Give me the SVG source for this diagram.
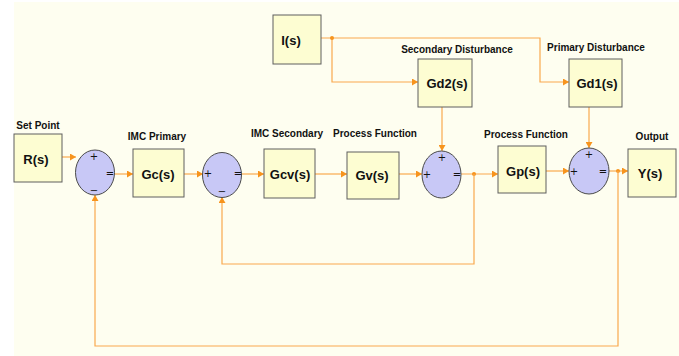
<svg xmlns="http://www.w3.org/2000/svg" width="679" height="356" viewBox="0 0 679 356">
<style>
.box{fill:#fdfdd2;stroke:#5e5e5e;stroke-width:1}
.sum{fill:#c8c8f6;stroke:#4a4a4a;stroke-width:1}
.lbl{font-family:"Liberation Sans",Arial,sans-serif;font-weight:bold;font-size:10px;fill:#111;text-anchor:middle}
.bl{font-family:"Liberation Sans",Arial,sans-serif;font-weight:bold;font-size:13px;fill:#111;text-anchor:middle}
.sg{font-family:"DejaVu Sans",sans-serif;font-size:10px;fill:#111;text-anchor:middle;dominant-baseline:central}
.ln{fill:none;stroke:#f9a84e;stroke-width:1.2}
.dot{fill:#f7941d}
</style>
<defs>
<marker id="ah" markerUnits="userSpaceOnUse" markerWidth="6" markerHeight="7" refX="6" refY="3.5" orient="auto">
<path d="M0,0 L6,3.5 L0,7 z" fill="#f7941d"/>
</marker>
</defs>
<rect x="0" y="0" width="679" height="356" fill="#ffffff"/>
<rect x="14" y="2" width="665" height="354" fill="#fefef0"/>

<g id="connectors">
<path class="ln" d="M321,38 H540 V82 H569" marker-end="url(#ah)"/>
<path class="ln" d="M332,38 V82 H418" marker-end="url(#ah)"/>
<circle class="dot" cx="332" cy="38" r="2"/>
<path class="ln" d="M442,107 V151" marker-end="url(#ah)"/>
<path class="ln" d="M589,107 V148" marker-end="url(#ah)"/>
<path class="ln" d="M62,157 H76" marker-end="url(#ah)"/>
<path class="ln" d="M114,174 H133" marker-end="url(#ah)"/>
<path class="ln" d="M184,174 H203" marker-end="url(#ah)"/>
<path class="ln" d="M241,174 H264" marker-end="url(#ah)"/>
<path class="ln" d="M315,174 H347" marker-end="url(#ah)"/>
<path class="ln" d="M399,174 H422" marker-end="url(#ah)"/>
<path class="ln" d="M461,174 H498" marker-end="url(#ah)"/>
<circle class="dot" cx="474" cy="174" r="2"/>
<path class="ln" d="M546,171 H569" marker-end="url(#ah)"/>
<path class="ln" d="M609,171 H628" marker-end="url(#ah)"/>
<circle class="dot" cx="618" cy="171" r="2"/>
<path class="ln" d="M474,174 V264 H222 V197" marker-end="url(#ah)"/>
<path class="ln" d="M618,171 V346 H95 V195" marker-end="url(#ah)"/>
</g>

<g id="I">
<rect class="box" x="273" y="15" width="48" height="49"/>
<text class="bl" x="291" y="45">I(s)</text>
</g>
<g id="Gd2">
<text class="lbl" x="457" y="53">Secondary Disturbance</text>
<rect class="box" x="418" y="59" width="54" height="48"/>
<text class="bl" x="447" y="88">Gd2(s)</text>
</g>
<g id="Gd1">
<text class="lbl" x="596" y="51">Primary Disturbance</text>
<rect class="box" x="569" y="59" width="53" height="48"/>
<text class="bl" x="597" y="88">Gd1(s)</text>
</g>
<g id="R">
<text class="lbl" x="38" y="129">Set Point</text>
<rect class="box" x="14" y="134" width="48" height="48"/>
<text class="bl" x="36" y="164">R(s)</text>
</g>
<g id="sum1">
<ellipse class="sum" cx="95" cy="172.5" rx="19.5" ry="22.5"/>
<text class="sg" x="94" y="156">+</text>
<text class="sg" x="94" y="190">−</text>
<text class="sg" x="110" y="173">=</text>
</g>
<g id="Gc">
<text class="lbl" x="157" y="140">IMC Primary</text>
<rect class="box" x="133" y="149" width="51" height="48"/>
<text class="bl" x="158" y="179">Gc(s)</text>
</g>
<g id="sum2">
<ellipse class="sum" cx="222" cy="175" rx="19.5" ry="22.5"/>
<text class="sg" x="208" y="173">+</text>
<text class="sg" x="222" y="191">−</text>
<text class="sg" x="238" y="173">=</text>
</g>
<g id="Gcv">
<text class="lbl" x="287" y="137">IMC Secondary</text>
<rect class="box" x="264" y="149" width="51" height="49"/>
<text class="bl" x="290" y="179">Gcv(s)</text>
</g>
<g id="Gv">
<text class="lbl" x="375" y="137">Process Function</text>
<rect class="box" x="347" y="152" width="52" height="47"/>
<text class="bl" x="372" y="180">Gv(s)</text>
</g>
<g id="sum3">
<ellipse class="sum" cx="441.5" cy="174.5" rx="19.5" ry="23.5"/>
<text class="sg" x="442" y="157">+</text>
<text class="sg" x="427" y="174">+</text>
<text class="sg" x="457" y="174">=</text>
</g>
<g id="Gp">
<text class="lbl" x="526" y="138">Process Function</text>
<rect class="box" x="498" y="146" width="48" height="47"/>
<text class="bl" x="523" y="176">Gp(s)</text>
</g>
<g id="sum4">
<ellipse class="sum" cx="589" cy="171" rx="20" ry="23"/>
<text class="sg" x="589" y="154">+</text>
<text class="sg" x="574" y="171">+</text>
<text class="sg" x="603" y="171">=</text>
</g>
<g id="Y">
<text class="lbl" x="652" y="140">Output</text>
<rect class="box" x="628" y="149" width="48" height="48"/>
<text class="bl" x="650" y="178">Y(s)</text>
</g>
</svg>
